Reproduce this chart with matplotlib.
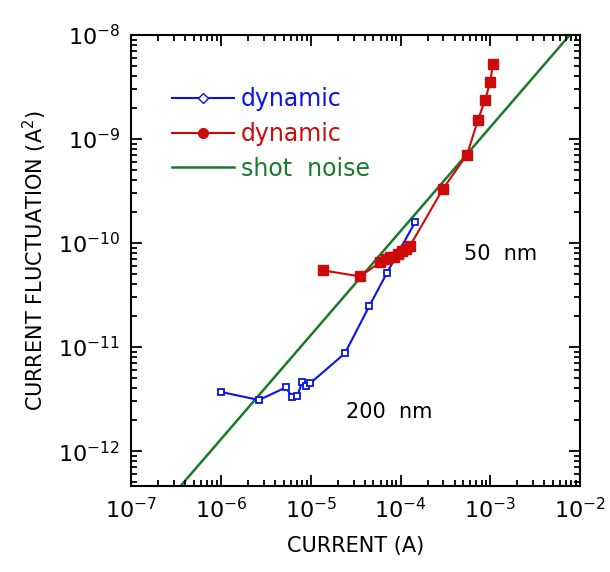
import numpy as np
import matplotlib.pyplot as plt
from matplotlib.lines import Line2D

# blue: 200 nm sample
i_blue = [1.0e-6, 2.66e-6, 5.3e-6, 6.2e-6, 7.1e-6, 8.0e-6, 8.9e-6, 9.9e-6,
          2.4e-5, 4.47e-5, 7.1e-5, 1.46e-4]
s_blue = [3.7e-12, 3.1e-12, 4.1e-12, 3.3e-12, 3.4e-12, 4.6e-12, 4.2e-12, 4.5e-12,
          8.7e-12, 2.46e-11, 5.2e-11, 1.6e-10]

# red: 50 nm sample
i_red = [1.37e-5, 3.55e-5, 5.9e-5, 6.9e-5, 7.66e-5, 8.5e-5, 9.4e-5, 1.04e-4,
         1.15e-4, 1.28e-4, 2.98e-4, 5.5e-4, 7.3e-4, 8.75e-4, 1.0e-3, 1.07e-3]
s_red = [5.45e-11, 4.78e-11, 6.5e-11, 6.95e-11, 7.26e-11, 7.4e-11, 7.76e-11, 8.3e-11,
         8.85e-11, 9.46e-11, 3.33e-10, 7.06e-10, 1.53e-9, 2.38e-9, 3.55e-9, 5.27e-9]

# shot noise S = k * I
k_shot = 1.3e-6
i_shot = [1e-7, 1e-2]

blue = '#0a14e6'
red = '#cc0a0a'
green = '#1a7a2a'

fig = plt.figure(figsize=(6.1, 5.72), dpi=100)
ax = fig.add_axes([0.215, 0.150, 0.736, 0.789])

ax.plot(i_shot, [k_shot * i for i in i_shot], color=green, lw=1.8, zorder=1)
ax.plot(i_blue, s_blue, color=blue, lw=1.5, marker='s', ms=5,
        mfc='white', mec=blue, mew=1.3, zorder=2)
ax.plot(i_red, s_red, color=red, lw=1.5, marker='s', ms=7,
        mfc=red, mec=red, zorder=3)

ax.set_xscale('log')
ax.set_yscale('log')
ax.set_xlim(1e-7, 1e-2)
ax.set_ylim(4.6e-13, 1e-8)

ax.tick_params(which='both', direction='in', top=True, right=True, width=1.3)
ax.tick_params(which='major', length=8, labelsize=16, pad=8)
ax.tick_params(which='minor', length=4)
for sp in ax.spines.values():
    sp.set_linewidth(1.5)

ax.set_xlabel('CURRENT (A)', fontsize=15, labelpad=10)
ax.set_ylabel('CURRENT FLUCTUATION (A$^2$)', fontsize=15, labelpad=6)

ax.text(1.3e-3, 7.8e-11, '50  nm', fontsize=15, ha='center', va='center')
ax.text(7.5e-5, 2.4e-12, '200  nm', fontsize=15, ha='center', va='center')

handles = [
    Line2D([], [], color=blue, lw=1.5, marker='D', ms=5, mfc='white', mec=blue),
    Line2D([], [], color=red, lw=1.5, marker='o', ms=7, mfc=red, mec=red),
    Line2D([], [], color=green, lw=1.8),
]
ax.legend(handles, ['dynamic', 'dynamic', 'shot  noise'], loc='upper left',
          bbox_to_anchor=(0.065, 0.91), frameon=False, fontsize=17,
          handlelength=2.6, handletextpad=0.3, labelspacing=0.45,
          borderpad=0, labelcolor='linecolor')

fig.savefig('out.png', dpi=100)
